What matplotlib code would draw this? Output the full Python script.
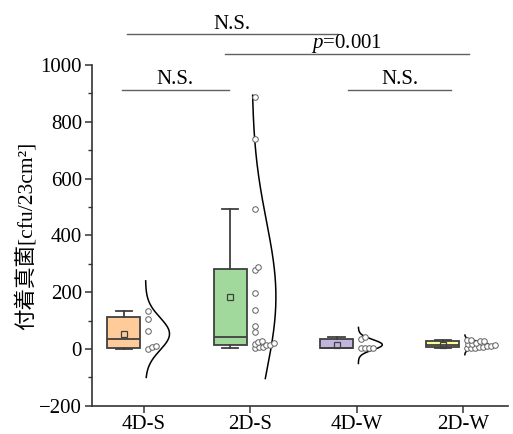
import numpy as np
import matplotlib.pyplot as plt

plt.rcParams['font.family'] = ['Liberation Serif', 'Noto Sans CJK JP']
plt.rcParams['mathtext.fontset'] = 'custom'
plt.rcParams['mathtext.rm'] = 'Liberation Serif'
plt.rcParams['mathtext.it'] = 'Liberation Serif:italic'

groups = ['4D-S', '2D-S', '4D-W', '2D-W']
vals_4ds = [133, 107, 65, 0, 6, 9]
vals_2ds = [888, 738, 494, 290, 280, 198, 139, 80, 61, 27, 26, 20, 18, 15, 15, 8, 8, 2]
vals_4dw = [42, 34, 2, 5, 4, 3]
vals_2dw = [33, 30, 28, 27, 22, 19, 16, 14, 12, 10, 8, 6, 4, 3, 2]
box_colors = ['#FFCC99', '#A0D99B', '#C3B4DC', '#FFFF99']
# value range over which each normal curve is drawn
curve_lo = [-100, -104, -51, -20]
curve_hi = [240, 894, 76, 49]

# significance brackets: (x start, x end, y, label)
brackets = [
    (0.84, 2.82, 1108, 'N.S.'),
    (1.76, 4.05, 1039, '$p$=0.001'),
    (0.79, 1.80, 914, 'N.S.'),
    (2.92, 3.89, 914, 'N.S.'),
]

all_vals = [vals_4ds, vals_2ds, vals_4dw, vals_2dw]
pos = np.arange(1, len(groups) + 1)

fig = plt.figure(figsize=(5.13, 4.34), dpi=100)
ax = fig.add_axes([0.179, 0.065, 0.811, 0.785])
ax.set_xlim(0.51, 4.42)
ax.set_ylim(-200, 1000)


def box_stats(v):
    v = np.asarray(v, float)
    q1, med, q3 = np.percentile(v, [25, 50, 75], method='weibull')
    iqr = q3 - q1
    lo = v[v >= q1 - 1.5 * iqr].min()
    hi = v[v <= q3 + 1.5 * iqr].max()
    return dict(med=med, q1=q1, q3=q3, whislo=lo, whishi=hi,
                mean=v.mean(), fliers=[])


edge = '#404040'
bp = ax.bxp([box_stats(v) for v in all_vals], positions=pos - 0.19,
            widths=0.31, capwidths=0.155, patch_artist=True, showmeans=True,
            boxprops=dict(edgecolor=edge, linewidth=1.3),
            medianprops=dict(color=edge, linewidth=1.3),
            whiskerprops=dict(color=edge, linewidth=1.3),
            capprops=dict(color=edge, linewidth=1.3),
            meanprops=dict(marker='s', markersize=4, markerfacecolor='none',
                           markeredgecolor=edge, markeredgewidth=0.9),
            manage_ticks=False)
for patch, c in zip(bp['boxes'], box_colors):
    patch.set_facecolor(c)

# normal distribution curves to the right of each box
for i, v in enumerate(all_vals):
    v = np.asarray(v, float)
    mu, sd = v.mean(), v.std(ddof=1)
    yy = np.linspace(curve_lo[i], curve_hi[i], 300)
    dens = np.exp(-0.5 * ((yy - mu) / sd) ** 2)
    ax.plot(pos[i] + 0.015 + 0.225 * dens, yy, color='black', lw=1.1)

# data points, nudged sideways so they overlap only partly
fig.canvas.draw()
tr = ax.transData
inv = tr.inverted()
gap = 4.0
for i, v in enumerate(all_vals):
    placed = []
    for val in sorted(v):
        px, py = tr.transform((pos[i] + 0.04, val))
        x = px
        while any(np.hypot(x - a, py - b) < gap for a, b in placed):
            x += 0.5
        placed.append((x, py))
    pts = inv.transform(np.array(placed))
    ax.plot(pts[:, 0], pts[:, 1], 'o', ms=4, mfc='white', mec='#606060',
            mew=0.7, zorder=4)

for x0, x1, y, lab in brackets:
    ax.plot([x0, x1], [y, y], color='#606060', lw=1.0, clip_on=False)
    ax.text((x0 + x1) / 2, y + 20, lab, ha='center', va='baseline',
            fontsize=15)

ax.set_xticks(pos)
ax.set_xticklabels(groups, fontsize=15)
ax.set_yticks(np.arange(-200, 1001, 200))
ax.set_yticks(np.arange(-100, 1000, 200), minor=True)
ax.tick_params(axis='y', labelsize=15, direction='out', length=5, width=1.1,
               color='#333333', pad=2)
ax.tick_params(axis='y', which='minor', length=3, width=1.0, color='#333333')
ax.tick_params(axis='x', direction='out', length=5, width=1.1, color='#333333',
               pad=1.5)
ax.set_ylabel('付着真菌[cfu/23cm²]', fontsize=15.5, labelpad=2)

for s in ['top', 'right']:
    ax.spines[s].set_visible(False)
for s in ['left', 'bottom']:
    ax.spines[s].set_color('#333333')
    ax.spines[s].set_linewidth(1.2)

fig.savefig('out.png', dpi=100)
